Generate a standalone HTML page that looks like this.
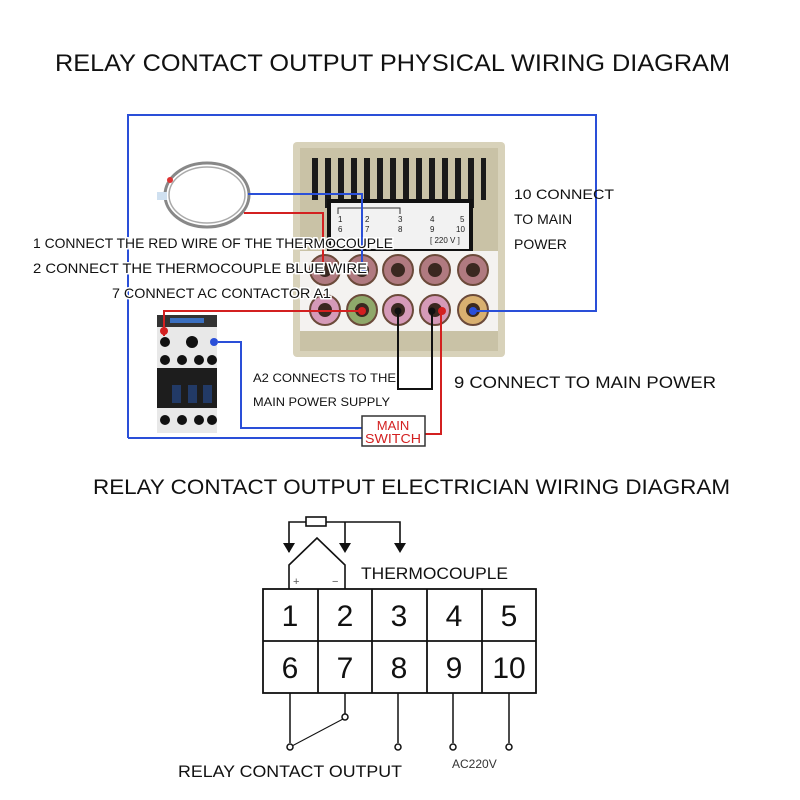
<!DOCTYPE html>
<html><head><meta charset="utf-8"><style>
html,body{margin:0;padding:0;background:#fff;}
svg{display:block;font-family:"Liberation Sans",sans-serif;}
</style></head><body>
<svg width="800" height="800" viewBox="0 0 800 800" xmlns="http://www.w3.org/2000/svg">
<rect width="800" height="800" fill="#fff"/>
<text x="55" y="71" font-size="24" textLength="675" lengthAdjust="spacingAndGlyphs" fill="#111">RELAY CONTACT OUTPUT PHYSICAL WIRING DIAGRAM</text>

<!-- controller -->
<rect x="293" y="142" width="212" height="215" rx="4" fill="#d8d2ba"/>
<rect x="300" y="148" width="198" height="203" fill="#c9c2a6"/>
<g fill="#1a1a1a">
<rect x="312" y="158" width="6" height="42"/><rect x="325" y="158" width="6" height="50"/><rect x="338" y="158" width="6" height="50"/><rect x="351" y="158" width="6" height="50"/><rect x="364" y="158" width="6" height="50"/><rect x="377" y="158" width="6" height="50"/><rect x="390" y="158" width="6" height="50"/><rect x="403" y="158" width="6" height="50"/><rect x="416" y="158" width="6" height="50"/><rect x="429" y="158" width="6" height="50"/><rect x="442" y="158" width="6" height="50"/><rect x="455" y="158" width="6" height="50"/><rect x="468" y="158" width="6" height="50"/><rect x="481" y="158" width="5" height="42"/>
</g>
<rect x="327" y="199" width="146" height="52" fill="#111"/>
<rect x="331" y="203" width="138" height="46" fill="#f2f2f2"/>
<g font-size="8" fill="#222">
<text x="338" y="222">1</text><text x="365" y="222">2</text><text x="398" y="222">3</text><text x="430" y="222">4</text><text x="460" y="222">5</text>
<text x="338" y="232">6</text><text x="365" y="232">7</text><text x="398" y="232">8</text><text x="430" y="232">9</text><text x="456" y="232">10</text>
<text x="430" y="243">[ 220 V ]</text>
</g>
<path d="M338 214 V208 H400 V214" fill="none" stroke="#333" stroke-width="1"/>
<rect x="300" y="251" width="198" height="80" fill="#f4f2f0"/>
<g fill="#b07a80" stroke="#6b4a3a" stroke-width="2">
<circle cx="325" cy="270" r="15"/><circle cx="362" cy="270" r="15"/><circle cx="398" cy="270" r="15"/><circle cx="435" cy="270" r="15"/><circle cx="473" cy="270" r="15"/>
<circle cx="325" cy="310" r="15" fill="#d59ab8"/><circle cx="362" cy="310" r="15" fill="#8fa86a"/><circle cx="398" cy="310" r="15" fill="#d59ab8"/><circle cx="435" cy="310" r="15" fill="#d59ab8"/><circle cx="473" cy="310" r="15" fill="#d9b070"/>
</g>
<g fill="#3a2820">
<circle cx="325" cy="270" r="7"/><circle cx="362" cy="270" r="7"/><circle cx="398" cy="270" r="7"/><circle cx="435" cy="270" r="7"/><circle cx="473" cy="270" r="7"/>
<circle cx="325" cy="310" r="7"/><circle cx="362" cy="310" r="7"/><circle cx="398" cy="310" r="7"/><circle cx="435" cy="310" r="7"/><circle cx="473" cy="310" r="7"/>
</g>

<!-- thermocouple coil -->
<ellipse cx="207" cy="195" rx="42" ry="32" fill="none" stroke="#888" stroke-width="3"/>
<ellipse cx="207" cy="195" rx="38" ry="28" fill="none" stroke="#aaa" stroke-width="1.5"/>
<rect x="157" y="192" width="10" height="8" fill="#cfe0f0"/>
<circle cx="170" cy="180" r="3" fill="#d33"/>

<!-- contactor -->
<rect x="157" y="315" width="60" height="118" fill="#e8e8e8"/>
<rect x="157" y="315" width="60" height="12" fill="#333"/>
<rect x="170" y="318" width="34" height="5" fill="#3a6fc0"/>
<g fill="#111"><circle cx="165" cy="342" r="5"/><circle cx="192" cy="342" r="6"/><circle cx="165" cy="360" r="5"/><circle cx="182" cy="360" r="5"/><circle cx="199" cy="360" r="5"/><circle cx="212" cy="360" r="5"/></g>
<rect x="157" y="368" width="60" height="40" fill="#1d1d1d"/>
<g fill="#223a66"><rect x="172" y="385" width="9" height="18"/><rect x="188" y="385" width="9" height="18"/><rect x="203" y="385" width="9" height="18"/></g>
<g fill="#111"><circle cx="165" cy="420" r="5"/><circle cx="182" cy="420" r="5"/><circle cx="199" cy="420" r="5"/><circle cx="212" cy="420" r="5"/></g>

<!-- wires -->
<g fill="none" stroke-width="2">
<path d="M128 438 V115 H596 V311 H473" stroke="#2a4fd8"/>
<path d="M128 438 H362" stroke="#2a4fd8"/>
<path d="M248 194 H362 V270" stroke="#2a4fd8"/>
<path d="M218 342 H241 V428 H362" stroke="#2a4fd8"/>
<path d="M244 213 H323 V262" stroke="#d32020"/>
<path d="M164 336 V311 H362" stroke="#d32020"/>
<path d="M441 310 V434 H425" stroke="#d32020"/>
<path d="M398 310 V389 H432 V310" stroke="#111"/>
</g>
<g><circle cx="362" cy="270" r="4" fill="#2a4fd8"/><circle cx="473" cy="311" r="4" fill="#2a4fd8"/><circle cx="214" cy="342" r="4" fill="#2a4fd8"/><circle cx="362" cy="311" r="4" fill="#d32020"/><circle cx="442" cy="311" r="4" fill="#d32020"/><circle cx="164" cy="331" r="4" fill="#d32020"/><circle cx="398" cy="311" r="3.5" fill="#111"/><circle cx="432" cy="311" r="3.5" fill="#111"/></g>

<rect x="362" y="416" width="63" height="30" fill="#fff" stroke="#333" stroke-width="1.5"/>
<text x="393" y="430" font-size="13" fill="#d32020" text-anchor="middle">MAIN</text>
<text x="393" y="443" font-size="13" fill="#d32020" text-anchor="middle" textLength="56" lengthAdjust="spacingAndGlyphs">SWITCH</text>

<g font-size="14" fill="#111" stroke="#fff" stroke-width="3" paint-order="stroke" lengthAdjust="spacingAndGlyphs">
<text x="33" y="248" textLength="360" lengthAdjust="spacingAndGlyphs">1 CONNECT THE RED WIRE OF THE THERMOCOUPLE</text>
<text x="33" y="273" textLength="334" lengthAdjust="spacingAndGlyphs">2 CONNECT THE THERMOCOUPLE BLUE WIRE</text>
<text x="112" y="298" textLength="219" lengthAdjust="spacingAndGlyphs">7 CONNECT AC CONTACTOR A1</text>
</g>
<g font-size="14" fill="#111">
<text x="514" y="199" textLength="100" lengthAdjust="spacingAndGlyphs">10 CONNECT</text>
<text x="514" y="224">TO MAIN</text>
<text x="514" y="249">POWER</text>
<text x="253" y="382" font-size="12" textLength="143" lengthAdjust="spacingAndGlyphs">A2 CONNECTS TO THE</text>
<text x="253" y="406" font-size="12" textLength="137" lengthAdjust="spacingAndGlyphs">MAIN POWER SUPPLY</text>
<text x="454" y="388" font-size="17" textLength="262" lengthAdjust="spacingAndGlyphs">9 CONNECT TO MAIN POWER</text>
</g>

<text x="93" y="494" font-size="21" textLength="637" lengthAdjust="spacingAndGlyphs" fill="#111">RELAY CONTACT OUTPUT ELECTRICIAN WIRING DIAGRAM</text>

<!-- thermocouple symbol -->
<g fill="none" stroke="#111" stroke-width="1.6">
<path d="M289 552 V522 H306 M326 522 H400 V545 M345 522 V545 M289 522 V545"/>
<rect x="306" y="517" width="20" height="9"/>
<path d="M289 589 V565 L317 538 L345 565 V589"/>
</g>
<g fill="#111"><path d="M283 543 L295 543 L289 553Z"/><path d="M339 543 L351 543 L345 553Z"/><path d="M394 543 L406 543 L400 553Z"/></g>
<text x="293" y="585" font-size="11" fill="#555">+</text>
<text x="332" y="585" font-size="11" fill="#555">−</text>
<text x="361" y="579" font-size="17" fill="#111" textLength="147" lengthAdjust="spacingAndGlyphs">THERMOCOUPLE</text>

<!-- grid -->
<g fill="none" stroke="#111" stroke-width="1.8">
<rect x="263" y="589" width="273" height="104"/>
<line x1="263" y1="641" x2="536" y2="641"/>
<line x1="318" y1="589" x2="318" y2="693"/><line x1="372" y1="589" x2="372" y2="693"/><line x1="427" y1="589" x2="427" y2="693"/><line x1="482" y1="589" x2="482" y2="693"/>
</g>
<g font-size="30" fill="#111" text-anchor="middle">
<text x="290" y="626">1</text><text x="345" y="626">2</text><text x="399" y="626">3</text><text x="454" y="626">4</text><text x="509" y="626">5</text>
<text x="290" y="678">6</text><text x="345" y="678">7</text><text x="399" y="678">8</text><text x="454" y="678">9</text><text x="509" y="678">10</text>
</g>
<g fill="none" stroke="#111" stroke-width="1.5">
<line x1="290" y1="693" x2="290" y2="743"/><line x1="345" y1="693" x2="345" y2="714"/>
<line x1="398" y1="693" x2="398" y2="743"/><line x1="453" y1="693" x2="453" y2="743"/><line x1="509" y1="693" x2="509" y2="743"/>
<line x1="292" y1="746" x2="343" y2="719" stroke-width="1"/>
</g>
<g fill="#fff" stroke="#111" stroke-width="1.5">
<circle cx="290" cy="747" r="3"/><circle cx="345" cy="717" r="3"/><circle cx="398" cy="747" r="3"/><circle cx="453" cy="747" r="3"/><circle cx="509" cy="747" r="3"/>
</g>
<text x="452" y="768" font-size="12" fill="#333">AC220V</text>
<text x="178" y="777" font-size="17" fill="#111" textLength="224" lengthAdjust="spacingAndGlyphs">RELAY CONTACT OUTPUT</text>
</svg>
</body></html>
